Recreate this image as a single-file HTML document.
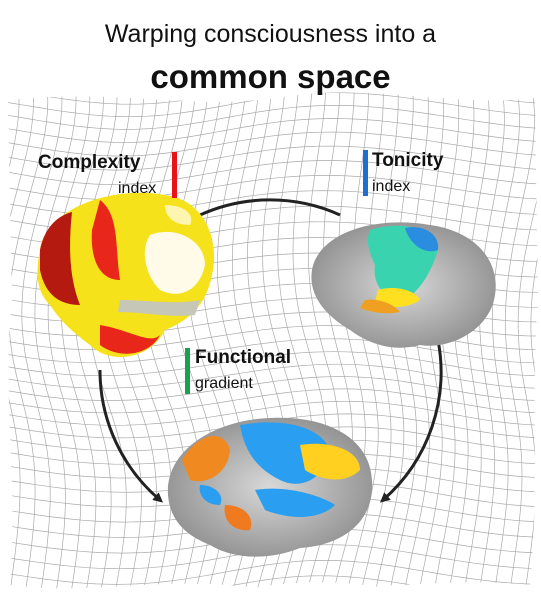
<!DOCTYPE html>
<html><head><meta charset="utf-8"><style>
html,body{margin:0;padding:0;background:#fff;width:541px;height:603px;overflow:hidden;}
#wrap{position:relative;width:541px;height:603px;overflow:hidden;font-family:"Liberation Sans",sans-serif;}
.t{position:absolute;white-space:nowrap;color:#111;}
</style></head><body>
<div id="wrap">
<svg id="svg" width="541" height="603" style="position:absolute;left:0;top:0">
<defs>
<clipPath id="gridclip"><path d="M8,100 C120,88 200,112 290,96 C380,84 460,108 535,98 L538,300 C530,400 540,480 530,585 C430,575 330,598 240,586 C150,578 80,595 10,585 C18,480 2,400 12,300 Z"/></clipPath>
<marker id="ah" markerWidth="10" markerHeight="10" refX="6" refY="5" orient="auto" markerUnits="userSpaceOnUse"><path d="M0,0 L10,5 L0,10 Z" fill="#222"/></marker>
<radialGradient id="gb" cx="0.5" cy="0.5" r="0.6"><stop offset="0" stop-color="#d8d8d8"/><stop offset="1" stop-color="#8a8a8a"/></radialGradient>
</defs>
<g id="grid" clip-path="url(#gridclip)"></g>
<path d="M200,215 A170,170 0 0 1 340,215" fill="none" stroke="#222" stroke-width="3"/>
<path d="M100,370 A170,170 0 0 0 160,500" fill="none" stroke="#222" stroke-width="3" marker-end="url(#ah)"/>
<path d="M438,340 A170,170 0 0 1 383,500" fill="none" stroke="#222" stroke-width="3" marker-end="url(#ah)"/>
<g>
<path d="M40,250 C45,210 110,185 165,195 C205,200 220,240 212,275 C206,305 190,320 165,330 C150,360 110,365 90,345 C70,330 60,320 50,305 C35,290 36,270 40,250Z" fill="#f5e21a"/>
<path d="M40,250 C45,225 60,215 72,212 C68,250 70,280 80,305 C60,305 45,295 40,270Z" fill="#b51a10"/>
<path d="M100,200 C120,215 115,250 120,280 C100,280 90,260 92,230Z" fill="#e8261a"/>
<path d="M150,235 C175,225 205,240 205,265 C200,290 180,300 160,290 C145,275 140,250 150,235Z" fill="#fffbe8"/>
<path d="M120,300 C150,300 175,305 200,300 L195,315 C170,318 140,312 118,312Z" fill="#c7c7b8"/>
<path d="M100,325 C130,330 150,345 160,335 C150,355 120,360 100,345Z" fill="#e8261a"/>
<path d="M165,205 C185,205 195,215 190,225 C175,225 165,218 165,205Z" fill="#fdf5b0"/>
</g>
<g>
<path d="M312,270 C318,235 370,215 430,225 C480,232 500,265 495,295 C490,330 450,350 420,345 C395,352 370,345 350,330 C325,315 308,295 312,270Z" fill="url(#gb)"/>
<path d="M370,230 C400,220 440,228 438,250 C430,275 420,290 405,300 C385,300 372,285 375,265 C368,250 366,240 370,230Z" fill="#39d3b0"/>
<path d="M405,228 C425,224 440,235 438,250 C425,255 410,245 405,228Z" fill="#2b8de0"/>
<path d="M378,290 C395,285 415,290 420,300 C405,310 385,308 375,302Z" fill="#ffe020"/>
<path d="M365,300 C380,298 395,305 400,312 C385,315 370,312 360,308Z" fill="#f0a020"/>
</g>
<g>
<path d="M168,495 C165,450 215,420 270,418 C330,415 370,440 372,480 C375,520 345,545 300,548 C270,560 235,560 210,545 C185,535 170,520 168,495Z" fill="url(#gb)"/>
<path d="M240,425 C280,418 320,425 330,450 C325,480 300,490 280,480 C260,470 245,455 240,425Z" fill="#2a9ef0"/>
<path d="M182,460 C200,430 225,430 230,450 C228,475 205,485 190,480Z" fill="#f08a20"/>
<path d="M300,445 C330,440 360,450 360,470 C345,485 320,480 305,470Z" fill="#ffd020"/>
<path d="M255,490 C285,485 320,495 335,505 C320,520 290,520 265,510Z" fill="#2a9ef0"/>
<path d="M225,505 C245,505 255,518 250,530 C235,532 222,522 225,505Z" fill="#f07a20"/>
<path d="M200,485 C215,485 225,495 220,505 C205,505 198,495 200,485Z" fill="#2a9ef0"/>
</g>
<rect x="172" y="152" width="5" height="46" fill="#e8141a"/>
<rect x="363" y="150" width="5" height="46" fill="#1f6fd0"/>
<rect x="185" y="348" width="5" height="46" fill="#1aa050"/>
</svg>
<div class="t" style="left:0;width:541px;text-align:center;top:20px;font-size:25px;">Warping consciousness into a</div>
<div class="t" style="left:0;width:541px;text-align:center;top:58px;font-size:33px;font-weight:bold;">common space</div>
<div class="t" style="left:38px;top:152px;font-size:19px;font-weight:bold;">Complexity</div>
<div class="t" style="left:118px;top:180px;font-size:16px;">index</div>
<div class="t" style="left:372px;top:150px;font-size:19px;font-weight:bold;">Tonicity</div>
<div class="t" style="left:372px;top:178px;font-size:16px;">index</div>
<div class="t" style="left:195px;top:347px;font-size:19px;font-weight:bold;">Functional</div>
<div class="t" style="left:195px;top:375px;font-size:16px;">gradient</div>
</div>
<script>
var g=document.getElementById('grid');
function warp(x,y){
  var dx=14*Math.sin(y/60)+8*Math.sin((x+y)/90);
  var dy=12*Math.sin(x/70)+6*Math.cos(y/50);
  var nx=Math.max(0,Math.min(540,x+dx)), ny=Math.max(0,Math.min(600,y+dy));
  return [nx,ny];
}
var ns='http://www.w3.org/2000/svg';
function line(pts){
  var p=document.createElementNS(ns,'path');
  
  
  p.setAttribute('d','M'+pts.map(function(q){return q[0].toFixed(1)+','+q[1].toFixed(1)}).join(' L'));
  p.setAttribute('fill','none');p.setAttribute('stroke','#aaaaaa');p.setAttribute('stroke-width','0.7');
  g.appendChild(p);
}
for(var x=-16;x<=560;x+=14){var a=[];for(var y=80;y<=590;y+=10)a.push(warp(x,y));line(a);}
for(var y=80;y<=590;y+=14){var a=[];for(var x=-20;x<=560;x+=10)a.push(warp(x,y));line(a);}
</script>
</body></html>
